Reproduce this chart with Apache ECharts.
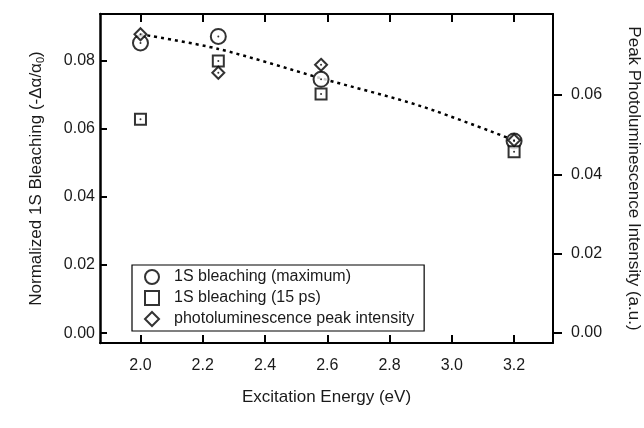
<!DOCTYPE html>
<html>
<head>
<meta charset="utf-8">
<script src="https://cdn.jsdelivr.net/npm/echarts@6/dist/echarts.min.js"></script>
<style>
html, body { margin: 0; padding: 0; background: #fff; }
#chart { width: 644px; height: 428px; }
</style>
</head>
<body>
<div id="chart"></div>
<script>
// excitation energies (eV)
var energy = [2.0, 2.25, 2.58, 3.2];
// left axis: normalized 1S bleaching
var bleachMax = [0.0853, 0.0872, 0.0746, 0.0565];
var bleach15ps = [0.0629, 0.0800, 0.0703, 0.0533];
// right axis: peak PL intensity
var plPeak = [0.0753, 0.0656, 0.0676, 0.0486];
// dotted guide line (right axis)
var fitEnergy = [2.0, 2.25, 2.58, 2.9, 3.2];
var fitPl = [0.0753, 0.0716, 0.0642, 0.0572, 0.0486];
// tick labels
var xTicks = [2.0, 2.2, 2.4, 2.6, 2.8, 3.0, 3.2];
var leftTicks = [0, 0.02, 0.04, 0.06, 0.08];
var rightTicks = [0, 0.02, 0.04, 0.06];

var ink = '#1a1a1a';
var font = 'Liberation Sans, Arial, sans-serif';

function pairs(xs, ys) {
    return xs.map(function (x, i) { return [x, ys[i]]; });
}

var chart = echarts.init(document.getElementById('chart'), null, { renderer: 'canvas' });

chart.setOption({
    animation: false,
    backgroundColor: '#fff',
    textStyle: { fontFamily: font, color: ink },
    grid: { left: 100, right: 91, top: 14, bottom: 85, outerBoundsMode: 'none', containLabel: false },
    legend: {
        orient: 'vertical',
        left: 132,
        top: 265,
        padding: [4, 10, 4, 12],
        itemGap: 5,
        itemWidth: 14,
        itemHeight: 14,
        borderColor: '#000',
        borderWidth: 1.2,
        textStyle: { fontSize: 16, color: ink, padding: [0, 0, 0, 10] },
        data: ['1S bleaching (maximum)', '1S bleaching (15 ps)', 'photoluminescence peak intensity']
    },
    xAxis: [
        {
            type: 'value',
            position: 'bottom',
            min: 1.87,
            max: 3.325,
            name: 'Excitation Energy (eV)',
            nameLocation: 'middle',
            nameGap: 46,
            nameTextStyle: { fontSize: 17, color: ink },
            axisLine: { onZero: false, lineStyle: { color: '#000', width: 2 } },
            axisTick: { inside: true, length: 8, lineStyle: { color: '#000', width: 2 }, customValues: xTicks },
            axisLabel: { fontSize: 16, color: ink, margin: 15, customValues: xTicks,
                formatter: function (v) { return v.toFixed(1); } },
            splitLine: { show: false }
        },
        {
            type: 'value',
            position: 'top',
            min: 1.87,
            max: 3.325,
            axisLine: { onZero: false, lineStyle: { color: '#000', width: 2 } },
            axisTick: { inside: true, length: 8, lineStyle: { color: '#000', width: 2 }, customValues: xTicks },
            axisLabel: { show: false },
            splitLine: { show: false }
        }
    ],
    yAxis: [
        {
            type: 'value',
            position: 'left',
            min: -0.0029,
            max: 0.0938,
            name: '{t|Normalized 1S Bleaching (-Δα/α}{s|0}{t|)}',
            nameLocation: 'middle',
            nameGap: 54,
            nameTextStyle: {
                color: ink,
                rich: {
                    t: { fontSize: 17, color: ink, fontFamily: font },
                    s: { fontSize: 11, color: ink, fontFamily: font, padding: [8, 0, 0, 0] }
                }
            },
            axisLine: { onZero: false, lineStyle: { color: '#000', width: 2.5 } },
            axisTick: { inside: true, length: 7, lineStyle: { color: '#000', width: 2 }, customValues: leftTicks },
            axisLabel: { fontSize: 16, color: ink, margin: 5, customValues: leftTicks,
                formatter: function (v) { return v.toFixed(2); } },
            splitLine: { show: false }
        },
        {
            type: 'value',
            position: 'right',
            min: -0.0025,
            max: 0.0804,
            name: 'Peak Photoluminescence Intensity (a.u.)',
            nameLocation: 'middle',
            nameRotate: -90,
            nameGap: 72,
            nameTextStyle: { fontSize: 17, color: ink },
            axisLine: { onZero: false, lineStyle: { color: '#000', width: 2 } },
            axisTick: { length: 9, lineStyle: { color: '#000', width: 2 }, customValues: rightTicks },
            axisLabel: { fontSize: 16, color: ink, margin: 18, customValues: rightTicks,
                formatter: function (v) { return v.toFixed(2); } },
            splitLine: { show: false }
        }
    ],
    series: [
        {
            name: 'fit',
            type: 'line',
            yAxisIndex: 1,
            data: pairs(fitEnergy, fitPl),
            smooth: 0.3,
            showSymbol: false,
            lineStyle: { color: '#000', width: 2.5, type: [3, 4] },
            silent: true,
            z: 1
        },
        {
            name: '1S bleaching (maximum)',
            type: 'scatter',
            data: pairs(energy, bleachMax),
            symbol: 'circle',
            symbolSize: 15,
            itemStyle: { color: '#fff', borderColor: '#000', borderWidth: 2 },
            z: 2
        },
        {
            name: '1S bleaching (15 ps)',
            type: 'scatter',
            data: pairs(energy, bleach15ps),
            symbol: 'rect',
            symbolSize: 11,
            itemStyle: { color: '#fff', borderColor: '#000', borderWidth: 2 },
            z: 3
        },
        {
            name: 'photoluminescence peak intensity',
            type: 'scatter',
            yAxisIndex: 1,
            data: pairs(energy, plPeak),
            symbol: 'diamond',
            symbolSize: 12,
            itemStyle: { color: '#fff', borderColor: '#000', borderWidth: 2 },
            z: 4
        },
        // small centre dots of the markers
        {
            name: 'dotsMax', type: 'scatter', data: pairs(energy, bleachMax),
            symbol: 'circle', symbolSize: 2, itemStyle: { color: '#000' }, silent: true, z: 5
        },
        {
            name: 'dots15', type: 'scatter', data: pairs(energy, bleach15ps),
            symbol: 'circle', symbolSize: 2, itemStyle: { color: '#000' }, silent: true, z: 5
        },
        {
            name: 'dotsPl', type: 'scatter', yAxisIndex: 1, data: pairs(energy, plPeak),
            symbol: 'circle', symbolSize: 2, itemStyle: { color: '#000' }, silent: true, z: 5
        }
    ]
});
</script>
</body>
</html>
